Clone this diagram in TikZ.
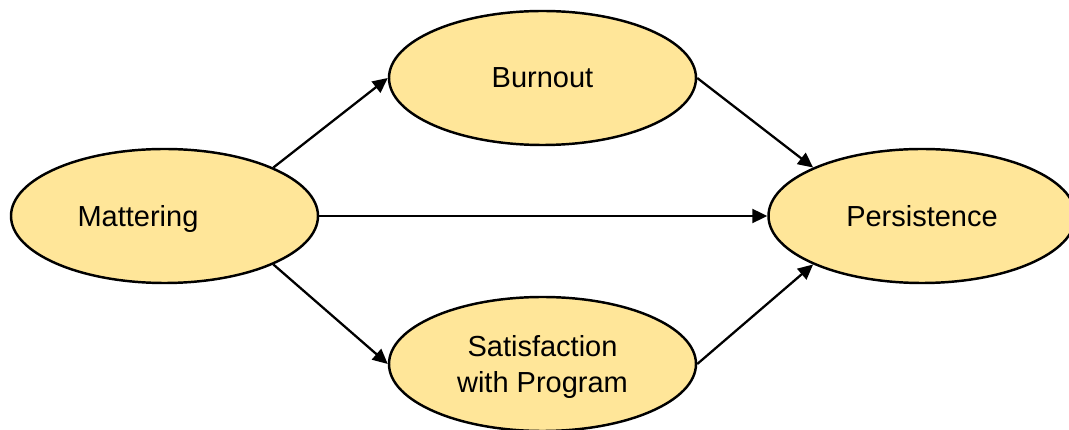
\documentclass[tikz,border=0pt]{standalone}
\usepackage{fontspec}
\setmainfont{Liberation Sans}
\usetikzlibrary{shapes.geometric,arrows.meta}
\definecolor{vangnhat}{RGB}{255,230,153}
\begin{document}
\begin{tikzpicture}[font=\fontsize{16.5}{20}\selectfont, line join=round, >={Triangle[length=3mm,width=2.8mm]},
	bien/.style={ellipse, draw, line width=1.4pt, fill=vangnhat, minimum width=6.14cm, minimum height=2.68cm, inner sep=0pt, align=center, text depth=0pt}]
			\useasboundingbox (0,0) rectangle (21.38,8.6);
			% Các biến
			\node[bien, label={[xshift=-5.3mm, text depth=0pt]center:Mattering}] (mattering) at (3.29,4.28) {};
			\node[bien] (burnout) at (10.85,7.04) {Burnout};
			\node[bien] (satisfaction) at (10.85,1.32) {Satisfaction\\with Program};
			\node[bien] (persistence) at (18.44,4.28) {Persistence};
			% Các mũi tên
			\draw[->, line width=1.3pt] (mattering.24) -- (burnout.west);
			\draw[->, line width=1.3pt] (mattering.east) -- (persistence.west);
			\draw[->, line width=1.3pt] (mattering.-24) -- (satisfaction.west);
			\draw[->, line width=1.3pt] (burnout.east) -- (persistence.156);
			\draw[->, line width=1.3pt] (satisfaction.east) -- (persistence.204);
		\end{tikzpicture}
\end{document}
